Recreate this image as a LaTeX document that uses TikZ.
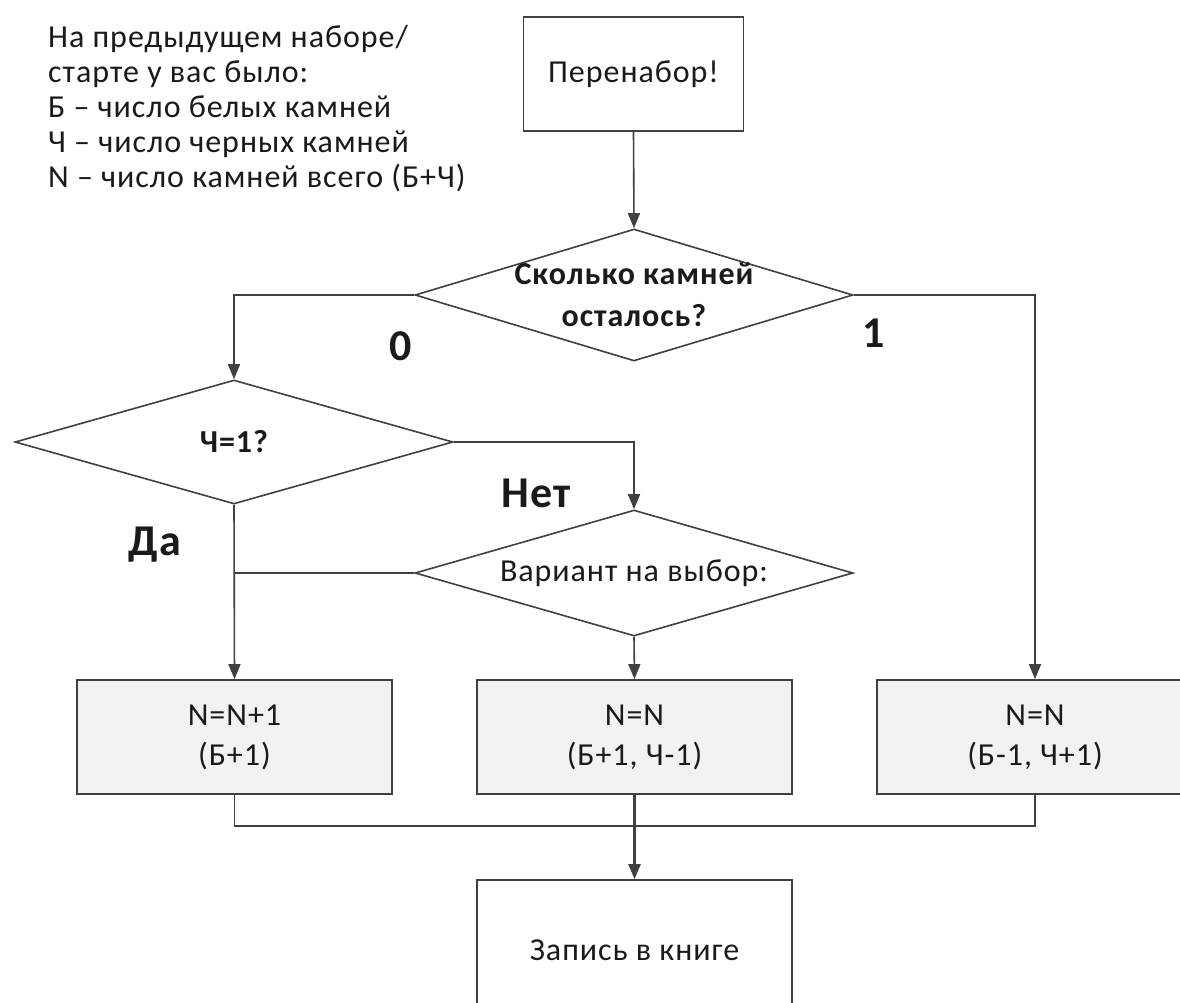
\documentclass[tikz,border=0pt]{standalone}
\usepackage{fontspec}
\setmainfont{Carlito}[LetterSpace=3]
\usetikzlibrary{shapes.geometric,arrows.meta}
\definecolor{ln}{HTML}{404040}
\definecolor{boxfill}{HTML}{F2F2F2}
\definecolor{txt}{HTML}{1A1A1A}
\tikzset{
  every node/.style={text=txt},
  every label/.style={text=txt, inner sep=0pt, align=center},
  plainbox/.style={draw=ln, line width=1.8pt, fill=white, inner sep=0pt, align=center,
    font=\fontsize{32}{40}\selectfont},
  greybox/.style={plainbox, fill=boxfill},
  decision/.style={draw=ln, line width=1.6pt, diamond, inner sep=0pt, fill=white},
  conn/.style={draw=ln, line width=1.6pt},
  arr/.style={conn, -{Triangle[length=15pt,width=12pt]}},
  lbl/.style={font=\fontsize{44}{48}\selectfont\bfseries, inner sep=0pt},
  note/.style={font=\fontsize{32}{35}\selectfont, anchor=base west, inner sep=0pt}
}
\begin{document}
\begin{tikzpicture}[x=1pt,y=-1pt]
\useasboundingbox[fill=white] (0,0) rectangle (1180,1002);

% note text
\node[note] (n1) at (48,47) {На предыдущем наборе/};
\node[note] (n2) at (48,82) {старте у вас было:};
\node[note] (n3) at (48,117) {Б – число белых камней};
\node[note] (n4) at (48,152) {Ч – число черных камней};
\node[note] (n5) at (48,187) {N – число камней всего (Б+Ч)};

% nodes
\node[plainbox, minimum width=220pt, minimum height=114pt] (start) at (633.5,74) {Перенабор!};
\node[decision, minimum width=438pt, minimum height=132pt,
      label={[font=\fontsize{32}{42}\selectfont\bfseries]center:Сколько камней\\осталось?}] (d1) at (634,295) {};
\node[decision, minimum width=438pt, minimum height=124pt,
      label={[font=\fontsize{32}{34}\selectfont\bfseries]center:Ч=1?}] (d2) at (234,442) {};
\node[decision, minimum width=438pt, minimum height=126pt,
      label={[font=\fontsize{32}{34}\selectfont]center:Вариант на выбор:}] (d3) at (634,573) {};

\node[greybox, minimum width=315pt, minimum height=114pt] (b1) at (234.5,737) {N=N+1\\(Б+1)};
\node[greybox, minimum width=315pt, minimum height=114pt] (b2) at (634.5,737) {N=N\\(Б+1, Ч-1)};
\node[greybox, minimum width=316pt, minimum height=114pt] (b3) at (1035,737) {N=N\\(Б-1, Ч+1)};

\node[plainbox, minimum width=315pt, minimum height=140pt] (rec) at (634.5,950) {Запись в книге};

% labels
\node[lbl] (l0) at (401,346) {0};
\node[lbl] (l1) at (874,333) {1};
\node[lbl] (lnet) at (536,493) {Нет};
\node[lbl] (lda) at (155,545) {Да};

% connectors
\draw[arr] (start.south) -- (d1.north);
\draw[arr] (d1.west) -| (d2.north);
\draw[arr] (d1.east) -| (b3.north);
\draw[arr] (d2.east) -| (d3.north);
\draw[arr] (d2.south) -- (b1.north);
\draw[conn] (d3.west) -- (d3.west -| d2.south);
\draw[arr] (d3.south) -- (b2.north);
\draw[conn] (b1.south) -- ++(0,31) -| (b3.south);
\draw[arr, line width=2.2pt] (b2.south) -- (rec.north);
\end{tikzpicture}
\end{document}
